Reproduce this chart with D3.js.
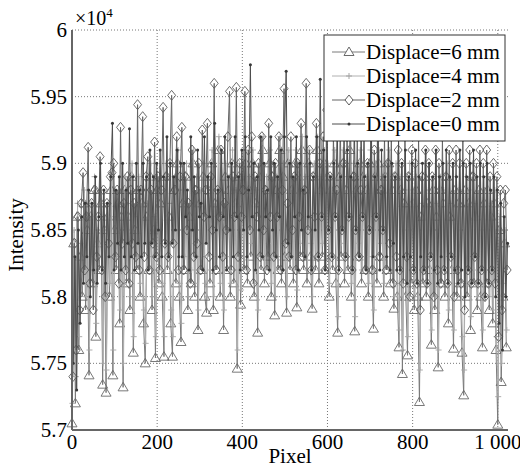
<!DOCTYPE html>
<html>
<head>
<meta charset="utf-8">
<script src="https://cdn.jsdelivr.net/npm/d3@7"></script>
<style>
  body { margin: 0; background: #fff; }
</style>
</head>
<body>
<svg id="chart" width="520" height="470"></svg>
<script>
// intensity values (x10^4), one sample every 4 sensor pixels
var displace6 = [
  5.705, 5.84, 5.72, 5.86, 5.76, 5.83, 5.80, 5.87,
  5.79, 5.85, 5.741, 5.86, 5.81, 5.88, 5.77, 5.84,
  5.82, 5.87, 5.734, 5.85, 5.728, 5.86, 5.80, 5.88,
  5.741, 5.85, 5.82, 5.87, 5.78, 5.86, 5.732, 5.88,
  5.81, 5.86, 5.79, 5.89, 5.758, 5.85, 5.82, 5.88,
  5.80, 5.87, 5.78, 5.75, 5.86, 5.82, 5.89, 5.79,
  5.85, 5.754, 5.88, 5.81, 5.87, 5.80, 5.755, 5.89,
  5.82, 5.86, 5.78, 5.755, 5.88, 5.81, 5.90, 5.80,
  5.766, 5.87, 5.82, 5.89, 5.79, 5.86, 5.81, 5.90,
  5.80, 5.88, 5.775, 5.87, 5.82, 5.89, 5.80, 5.788,
  5.88, 5.81, 5.90, 5.79, 5.87, 5.82, 5.91, 5.80,
  5.86, 5.775, 5.89, 5.82, 5.88, 5.80, 5.90, 5.81,
  5.87, 5.746, 5.89, 5.794, 5.88, 5.82, 5.90, 5.81,
  5.88, 5.83, 5.90, 5.80, 5.87, 5.773, 5.89, 5.82,
  5.91, 5.81, 5.88, 5.83, 5.90, 5.80, 5.89, 5.786,
  5.88, 5.82, 5.91, 5.81, 5.89, 5.83, 5.788, 5.90,
  5.82, 5.88, 5.81, 5.90, 5.792, 5.89, 5.83, 5.91,
  5.82, 5.88, 5.81, 5.90, 5.83, 5.791, 5.89, 5.82,
  5.91, 5.81, 5.88, 5.83, 5.90, 5.82, 5.89, 5.80,
  5.88, 5.82, 5.90, 5.81, 5.773, 5.89, 5.83, 5.90,
  5.81, 5.88, 5.82, 5.91, 5.80, 5.89, 5.774, 5.88,
  5.83, 5.90, 5.81, 5.89, 5.82, 5.88, 5.80, 5.90,
  5.82, 5.776, 5.89, 5.81, 5.90, 5.83, 5.88, 5.80,
  5.89, 5.82, 5.90, 5.81, 5.88, 5.791, 5.89, 5.80,
  5.762, 5.88, 5.742, 5.87, 5.80, 5.756, 5.89, 5.81,
  5.87, 5.79, 5.88, 5.80, 5.721, 5.86, 5.81, 5.89,
  5.80, 5.87, 5.82, 5.764, 5.88, 5.79, 5.86, 5.747,
  5.88, 5.81, 5.87, 5.80, 5.89, 5.78, 5.86, 5.82,
  5.761, 5.88, 5.80, 5.87, 5.81, 5.758, 5.726, 5.88,
  5.80, 5.87, 5.775, 5.89, 5.81, 5.86, 5.79, 5.88,
  5.80, 5.762, 5.87, 5.81, 5.88, 5.79, 5.86, 5.78,
  5.87, 5.76, 5.704, 5.85, 5.736, 5.80, 5.84, 5.762
]
var displace4 = [
  5.72, 5.85, 5.74, 5.87, 5.77, 5.84, 5.81, 5.88,
  5.80, 5.86, 5.76, 5.87, 5.82, 5.89, 5.78, 5.85,
  5.83, 5.88, 5.75, 5.86, 5.745, 5.87, 5.81, 5.89,
  5.76, 5.86, 5.83, 5.88, 5.79, 5.87, 5.75, 5.89,
  5.82, 5.87, 5.80, 5.90, 5.77, 5.86, 5.83, 5.89,
  5.81, 5.88, 5.79, 5.765, 5.87, 5.83, 5.90, 5.80,
  5.86, 5.77, 5.89, 5.82, 5.88, 5.81, 5.77, 5.90,
  5.83, 5.87, 5.79, 5.77, 5.89, 5.82, 5.91, 5.81,
  5.78, 5.88, 5.83, 5.90, 5.80, 5.87, 5.82, 5.91,
  5.81, 5.89, 5.79, 5.88, 5.83, 5.90, 5.81, 5.80,
  5.89, 5.82, 5.91, 5.80, 5.88, 5.83, 5.92, 5.81,
  5.87, 5.79, 5.90, 5.83, 5.89, 5.81, 5.91, 5.82,
  5.88, 5.76, 5.90, 5.805, 5.89, 5.83, 5.91, 5.82,
  5.89, 5.84, 5.91, 5.81, 5.88, 5.79, 5.90, 5.83,
  5.92, 5.82, 5.89, 5.84, 5.91, 5.81, 5.90, 5.80,
  5.89, 5.83, 5.92, 5.82, 5.90, 5.84, 5.80, 5.91,
  5.83, 5.89, 5.82, 5.91, 5.805, 5.90, 5.84, 5.92,
  5.83, 5.89, 5.82, 5.91, 5.84, 5.80, 5.90, 5.83,
  5.92, 5.82, 5.89, 5.84, 5.91, 5.83, 5.90, 5.81,
  5.89, 5.83, 5.91, 5.82, 5.785, 5.90, 5.84, 5.91,
  5.82, 5.89, 5.83, 5.92, 5.81, 5.90, 5.785, 5.89,
  5.84, 5.91, 5.82, 5.90, 5.83, 5.89, 5.81, 5.91,
  5.83, 5.79, 5.90, 5.82, 5.91, 5.84, 5.89, 5.81,
  5.90, 5.83, 5.91, 5.82, 5.89, 5.80, 5.90, 5.81,
  5.775, 5.89, 5.76, 5.88, 5.81, 5.77, 5.90, 5.82,
  5.88, 5.80, 5.89, 5.81, 5.745, 5.87, 5.82, 5.90,
  5.81, 5.88, 5.83, 5.775, 5.89, 5.80, 5.87, 5.76,
  5.89, 5.82, 5.88, 5.81, 5.90, 5.79, 5.87, 5.83,
  5.775, 5.89, 5.81, 5.88, 5.82, 5.77, 5.745, 5.89,
  5.81, 5.88, 5.785, 5.90, 5.82, 5.87, 5.80, 5.89,
  5.81, 5.775, 5.88, 5.82, 5.89, 5.80, 5.87, 5.79,
  5.88, 5.77, 5.725, 5.86, 5.75, 5.81, 5.85, 5.775
]
var displace2 = [
  5.74, 5.84, 5.76, 5.86, 5.79, 5.87, 5.893, 5.82,
  5.86, 5.912, 5.81, 5.87, 5.79, 5.88, 5.83, 5.86,
  5.905, 5.82, 5.88, 5.80, 5.87, 5.84, 5.89, 5.893,
  5.90, 5.83, 5.88, 5.81, 5.927, 5.84, 5.87, 5.82,
  5.89, 5.81, 5.88, 5.84, 5.87, 5.83, 5.944, 5.82,
  5.88, 5.935, 5.83, 5.89, 5.905, 5.82, 5.88, 5.84,
  5.916, 5.83, 5.89, 5.82, 5.88, 5.942, 5.84, 5.89,
  5.83, 5.90, 5.951, 5.84, 5.88, 5.92, 5.82, 5.89,
  5.927, 5.82, 5.89, 5.85, 5.87, 5.81, 5.91, 5.83,
  5.88, 5.84, 5.90, 5.82, 5.925, 5.86, 5.88, 5.93,
  5.83, 5.89, 5.85, 5.96, 5.82, 5.88, 5.86, 5.91,
  5.83, 5.87, 5.85, 5.92, 5.954, 5.82, 5.89, 5.86,
  5.957, 5.83, 5.90, 5.86, 5.88, 5.954, 5.82, 5.91,
  5.85, 5.92, 5.81, 5.89, 5.86, 5.90, 5.83, 5.92,
  5.85, 5.88, 5.82, 5.93, 5.86, 5.89, 5.83, 5.90,
  5.86, 5.92, 5.82, 5.88, 5.956, 5.84, 5.87, 5.83,
  5.92, 5.85, 5.89, 5.82, 5.90, 5.86, 5.93, 5.83,
  5.88, 5.96, 5.85, 5.91, 5.82, 5.89, 5.86, 5.93,
  5.83, 5.90, 5.86, 5.92, 5.82, 5.94, 5.85, 5.89,
  5.83, 5.92, 5.86, 5.88, 5.82, 5.93, 5.85, 5.90,
  5.83, 5.92, 5.86, 5.94, 5.82, 5.89, 5.85, 5.92,
  5.83, 5.88, 5.86, 5.93, 5.82, 5.90, 5.85, 5.92,
  5.82, 5.91, 5.86, 5.93, 5.83, 5.88, 5.85, 5.92,
  5.82, 5.90, 5.84, 5.92, 5.81, 5.89, 5.83, 5.91,
  5.82, 5.90, 5.81, 5.92, 5.83, 5.89, 5.80, 5.91,
  5.82, 5.90, 5.81, 5.92, 5.79, 5.89, 5.82, 5.91,
  5.81, 5.90, 5.83, 5.89, 5.80, 5.91, 5.82, 5.90,
  5.81, 5.92, 5.82, 5.89, 5.81, 5.91, 5.83, 5.90,
  5.80, 5.91, 5.82, 5.90, 5.81, 5.92, 5.79, 5.90,
  5.82, 5.91, 5.81, 5.89, 5.83, 5.90, 5.81, 5.91,
  5.82, 5.90, 5.80, 5.91, 5.81, 5.89, 5.82, 5.90,
  5.81, 5.89, 5.77, 5.88, 5.79, 5.87, 5.88, 5.82
]
var displace0 = [
  5.75, 5.83, 5.73, 5.85, 5.78, 5.86, 5.81, 5.87,
  5.83, 5.88, 5.80, 5.87, 5.82, 5.89, 5.81, 5.86,
  5.90, 5.82, 5.88, 5.81, 5.87, 5.83, 5.89, 5.93,
  5.82, 5.88, 5.84, 5.89, 5.82, 5.90, 5.83, 5.88,
  5.84, 5.926, 5.83, 5.89, 5.82, 5.90, 5.84, 5.88,
  5.83, 5.90, 5.84, 5.89, 5.82, 5.91, 5.84, 5.89,
  5.83, 5.90, 5.85, 5.91, 5.83, 5.89, 5.84, 5.92,
  5.83, 5.90, 5.84, 5.89, 5.85, 5.91, 5.83, 5.90,
  5.83, 5.90, 5.86, 5.88, 5.82, 5.92, 5.85, 5.89,
  5.83, 5.91, 5.86, 5.87, 5.82, 5.92, 5.84, 5.89,
  5.86, 5.90, 5.82, 5.93, 5.85, 5.88, 5.83, 5.91,
  5.86, 5.92, 5.82, 5.89, 5.85, 5.90, 5.83, 5.92,
  5.86, 5.89, 5.82, 5.91, 5.85, 5.92, 5.83, 5.88,
  5.974, 5.86, 5.90, 5.82, 5.89, 5.85, 5.92, 5.83,
  5.90, 5.86, 5.88, 5.82, 5.92, 5.85, 5.90, 5.83,
  5.89, 5.86, 5.91, 5.82, 5.92, 5.969, 5.84, 5.90,
  5.83, 5.89, 5.86, 5.92, 5.82, 5.90, 5.85, 5.88,
  5.83, 5.92, 5.86, 5.90, 5.82, 5.89, 5.85, 5.92,
  5.83, 5.963, 5.86, 5.91, 5.82, 5.92, 5.85, 5.89,
  5.83, 5.90, 5.86, 5.93, 5.82, 5.89, 5.85, 5.92,
  5.83, 5.91, 5.86, 5.89, 5.82, 5.93, 5.85, 5.90,
  5.83, 5.92, 5.86, 5.89, 5.82, 5.90, 5.85, 5.93,
  5.83, 5.89, 5.86, 5.92, 5.82, 5.91, 5.85, 5.89,
  5.83, 5.92, 5.82, 5.90, 5.84, 5.89, 5.82, 5.92,
  5.82, 5.90, 5.83, 5.91, 5.81, 5.89, 5.83, 5.90,
  5.82, 5.91, 5.81, 5.89, 5.83, 5.90, 5.82, 5.91,
  5.81, 5.90, 5.83, 5.89, 5.82, 5.91, 5.81, 5.89,
  5.83, 5.90, 5.82, 5.91, 5.81, 5.89, 5.83, 5.90,
  5.82, 5.89, 5.81, 5.91, 5.82, 5.90, 5.80, 5.89,
  5.82, 5.90, 5.81, 5.91, 5.83, 5.89, 5.81, 5.90,
  5.82, 5.89, 5.80, 5.90, 5.81, 5.88, 5.82, 5.89,
  5.80, 5.88, 5.78, 5.87, 5.76, 5.86, 5.80, 5.84
]

// each curve sampled at its own pixel columns
var pixels6 = d3.range(0, 1024, 4)
var pixels4 = d3.range(1, 1024, 4)
var pixels2 = d3.range(2, 1024, 4)
var pixels0 = d3.range(3, 1024, 4)

var labels = ["Displace=6 mm", "Displace=4 mm", "Displace=2 mm", "Displace=0 mm"]
var xTicks = [0, 200, 400, 600, 800, 1000]
var xTickLabels = ["0", "200", "400", "600", "800", "1 000"]
var yTicks = [5.7, 5.75, 5.8, 5.85, 5.9, 5.95, 6]
var yTickLabels = ["5.7", "5.75", "5.8", "5.85", "5.9", "5.95", "6"]

var series = [
    { name: labels[0], x: pixels6, y: displace6, line: "#7a7a7a", marker: "tri", mcolor: "#6a6a6a" },
    { name: labels[1], x: pixels4, y: displace4, line: "#b0b0b0", marker: "plus", mcolor: "#a5a5a5" },
    { name: labels[2], x: pixels2, y: displace2, line: "#656565", marker: "diamond", mcolor: "#5c5c5c" },
    { name: labels[3], x: pixels0, y: displace0, line: "#4d4d4d", marker: "dot", mcolor: "#383838" }
]

var serif = '"Liberation Serif", "Times New Roman", "DejaVu Serif", serif'

var svg = d3.select("#chart").style("font-family", serif)
var margin = { left: 72, right: 12, top: 30, bottom: 40 }
var width = 520 - margin.left - margin.right
var height = 470 - margin.top - margin.bottom

var x = d3.scaleLinear().domain([0, 1024]).range([0, width])
var y = d3.scaleLinear().domain([5.7, 6]).range([height, 0])

var g = svg.append("g").attr("transform", `translate(${margin.left},${margin.top})`)

// dotted grid
g.append("g").selectAll("line").data(xTicks.slice(1)).join("line")
    .attr("x1", d => x(d)).attr("x2", d => x(d))
    .attr("y1", 0).attr("y2", height)
    .attr("stroke", "#777").attr("stroke-width", 1).attr("stroke-dasharray", "1,2")
g.append("g").selectAll("line").data(yTicks.slice(1)).join("line")
    .attr("x1", 0).attr("x2", width)
    .attr("y1", d => y(d)).attr("y2", d => y(d))
    .attr("stroke", "#777").attr("stroke-width", 1).attr("stroke-dasharray", "1,2")

function markerPath(type) {
    if (type == "tri") return "M0,-5L5,3.5L-5,3.5Z"
    if (type == "diamond") return "M0,-5L4,0L0,5L-4,0Z"
    if (type == "plus") return "M-3,0H3M0,-3V3"
    return null
}

var line = d3.line()

series.forEach(s => {
    var pts = s.y.map((v, i) => [x(s.x[i]), y(v)])
    var sg = g.append("g")
    sg.append("path")
        .attr("d", line(pts))
        .attr("fill", "none")
        .attr("stroke", s.line)
        .attr("stroke-width", 1)
    if (s.marker == "dot") {
        sg.selectAll("circle").data(pts).join("circle")
            .attr("cx", d => d[0]).attr("cy", d => d[1]).attr("r", 1.5)
            .attr("fill", s.mcolor)
    } else {
        sg.selectAll("path.m").data(pts).join("path")
            .attr("class", "m")
            .attr("transform", d => `translate(${d[0]},${d[1]})`)
            .attr("d", markerPath(s.marker))
            .attr("fill", "none")
            .attr("stroke", s.mcolor)
            .attr("stroke-width", 0.9)
    }
})

// axes lines
g.append("line").attr("x1", 0).attr("x2", 0).attr("y1", 0).attr("y2", height)
    .attr("stroke", "#666").attr("stroke-width", 2)
g.append("line").attr("x1", 0).attr("x2", width).attr("y1", height).attr("y2", height)
    .attr("stroke", "#666").attr("stroke-width", 2)

// tick labels
g.append("g").selectAll("text").data(xTicks).join("text")
    .attr("x", d => x(d)).attr("y", height + 19)
    .attr("text-anchor", "middle").style("font-size", "21px")
    .text((d, i) => xTickLabels[i])
g.append("g").selectAll("text").data(yTicks).join("text")
    .attr("x", -5).attr("y", d => y(d) + 7)
    .attr("text-anchor", "end").style("font-size", "21px")
    .text((d, i) => yTickLabels[i])

// exponent
var ex = g.append("text").attr("x", 3).attr("y", -5).style("font-size", "20px")
ex.append("tspan").text("\u00d710")
ex.append("tspan").attr("dy", -8).style("font-size", "13px").text("4")

// axis titles
svg.append("text").attr("x", margin.left + width / 2).attr("y", 463)
    .attr("text-anchor", "middle").style("font-size", "21px").text("Pixel")
svg.append("text").attr("transform", "translate(23,235) rotate(-90)")
    .attr("text-anchor", "middle").style("font-size", "21px").text("Intensity")

// legend
var lg = svg.append("g").attr("transform", "translate(324,35)")
lg.append("rect").attr("width", 181).attr("height", 106)
    .attr("fill", "#fff").attr("stroke", "#333").attr("stroke-width", 1)
series.forEach((s, i) => {
    var cy = 17 + i * 24
    lg.append("line").attr("x1", 8).attr("x2", 41).attr("y1", cy).attr("y2", cy)
        .attr("stroke", s.line).attr("stroke-width", 1)
    if (s.marker == "dot") {
        lg.append("circle").attr("cx", 25).attr("cy", cy).attr("r", 1.5).attr("fill", s.mcolor)
    } else {
        lg.append("path").attr("transform", `translate(25,${cy})`)
            .attr("d", markerPath(s.marker)).attr("fill", "#fff")
            .attr("stroke", s.mcolor).attr("stroke-width", 1)
    }
    lg.append("text").attr("x", 42).attr("y", cy + 7)
        .style("font-size", "21px").text(s.name)
})
</script>
</body>
</html>
